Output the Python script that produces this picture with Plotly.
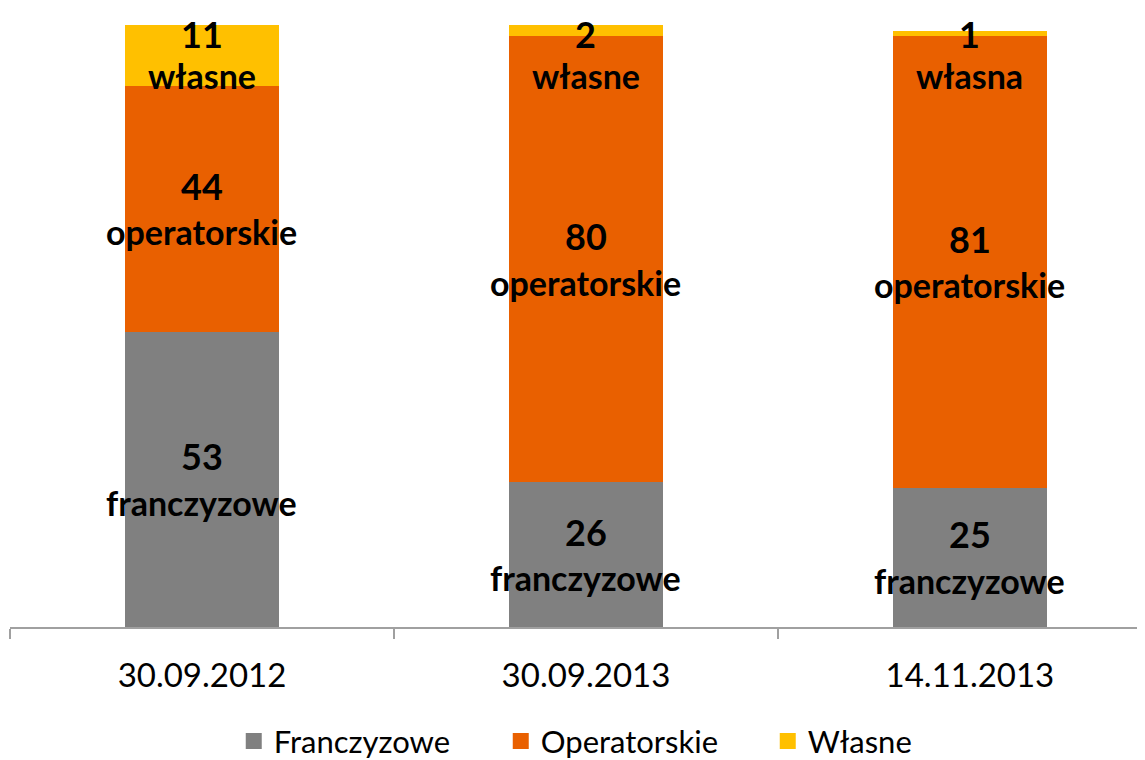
import plotly.graph_objects as go

categories = ["30.09.2012", "30.09.2013", "14.11.2013"]
franczyzowe = [53, 26, 25]
operatorskie = [44, 80, 81]
wlasne = [11, 2, 1]
series_names = ["Franczyzowe", "Operatorskie", "Własne"]
seg_words_franczyzowe = ["franczyzowe", "franczyzowe", "franczyzowe"]
seg_words_operatorskie = ["operatorskie", "operatorskie", "operatorskie"]
seg_words_wlasne = ["własne", "własne", "własna"]

colors = ["#808080", "#E96000", "#FFC000"]
FONT = "Lato"

fig = go.Figure()
for name, vals, col in zip(series_names, [franczyzowe, operatorskie, wlasne], colors):
    fig.add_trace(go.Bar(x=categories, y=vals, name=name, marker_color=col,
                         marker_line_width=0, width=0.4, showlegend=False))
    # legend proxy
    fig.add_trace(go.Scatter(x=[None], y=[None], mode="markers", name=name,
                             marker=dict(symbol="square", size=20, color=col)))

annotations = []
totals = [f + o + w for f, o, w in zip(franczyzowe, operatorskie, wlasne)]
top_label_y = max(totals) - 4.9
for i, c in enumerate(categories):
    f, o, w = franczyzowe[i], operatorskie[i], wlasne[i]
    labels = [
        (f / 2, f, seg_words_franczyzowe[i], 23),
        (f + o / 2, o, seg_words_operatorskie[i], 23),
        (top_label_y, w, seg_words_wlasne[i], 18),
    ]
    for y, v, word, up in labels:
        annotations.append(dict(
            x=c, y=y, xref="x", yref="y", showarrow=False, yshift=up,
            text=f"<b>{v}</b>",
            font=dict(family=FONT, size=36, color="#000000"),
            xanchor="center", yanchor="middle"))
        annotations.append(dict(
            x=c, y=y, xref="x", yref="y", showarrow=False, yshift=-23,
            text=f"<b>{word}</b>",
            font=dict(family=FONT, size=34, color="#000000"),
            xanchor="center", yanchor="middle"))

# page body has an 8px default margin, so the figure is sized to fit the window
fig.update_layout(
    width=1137, height=752,
    margin=dict(l=2, r=0, t=17, b=133, autoexpand=False),
    paper_bgcolor="white", plot_bgcolor="white",
    barmode="stack", bargap=0.6,
    font=dict(family=FONT, color="#000000"),
    annotations=annotations,
    legend=dict(orientation="h", x=0.55, xanchor="center", y=-0.19, yanchor="middle",
                font=dict(family=FONT, size=31, color="#000000"),
                traceorder="normal",
                itemsizing="trace", itemwidth=30, entrywidth=222, entrywidthmode="pixels"),
    xaxis=dict(type="category", range=[-0.5, 2.456], tickson="boundaries",
               ticks="outside", ticklen=10, tickcolor="#A0A0A0", tickwidth=1.5,
               showline=True, linecolor="#A0A0A0", linewidth=2, automargin=False,
               showgrid=False, zeroline=False, ticklabelstandoff=18,
               tickfont=dict(family=FONT, size=33, color="#000000")),
    yaxis=dict(range=[0, 108], visible=False, showgrid=False, zeroline=False,
               automargin=False),
)

fig.write_html("out.html")
